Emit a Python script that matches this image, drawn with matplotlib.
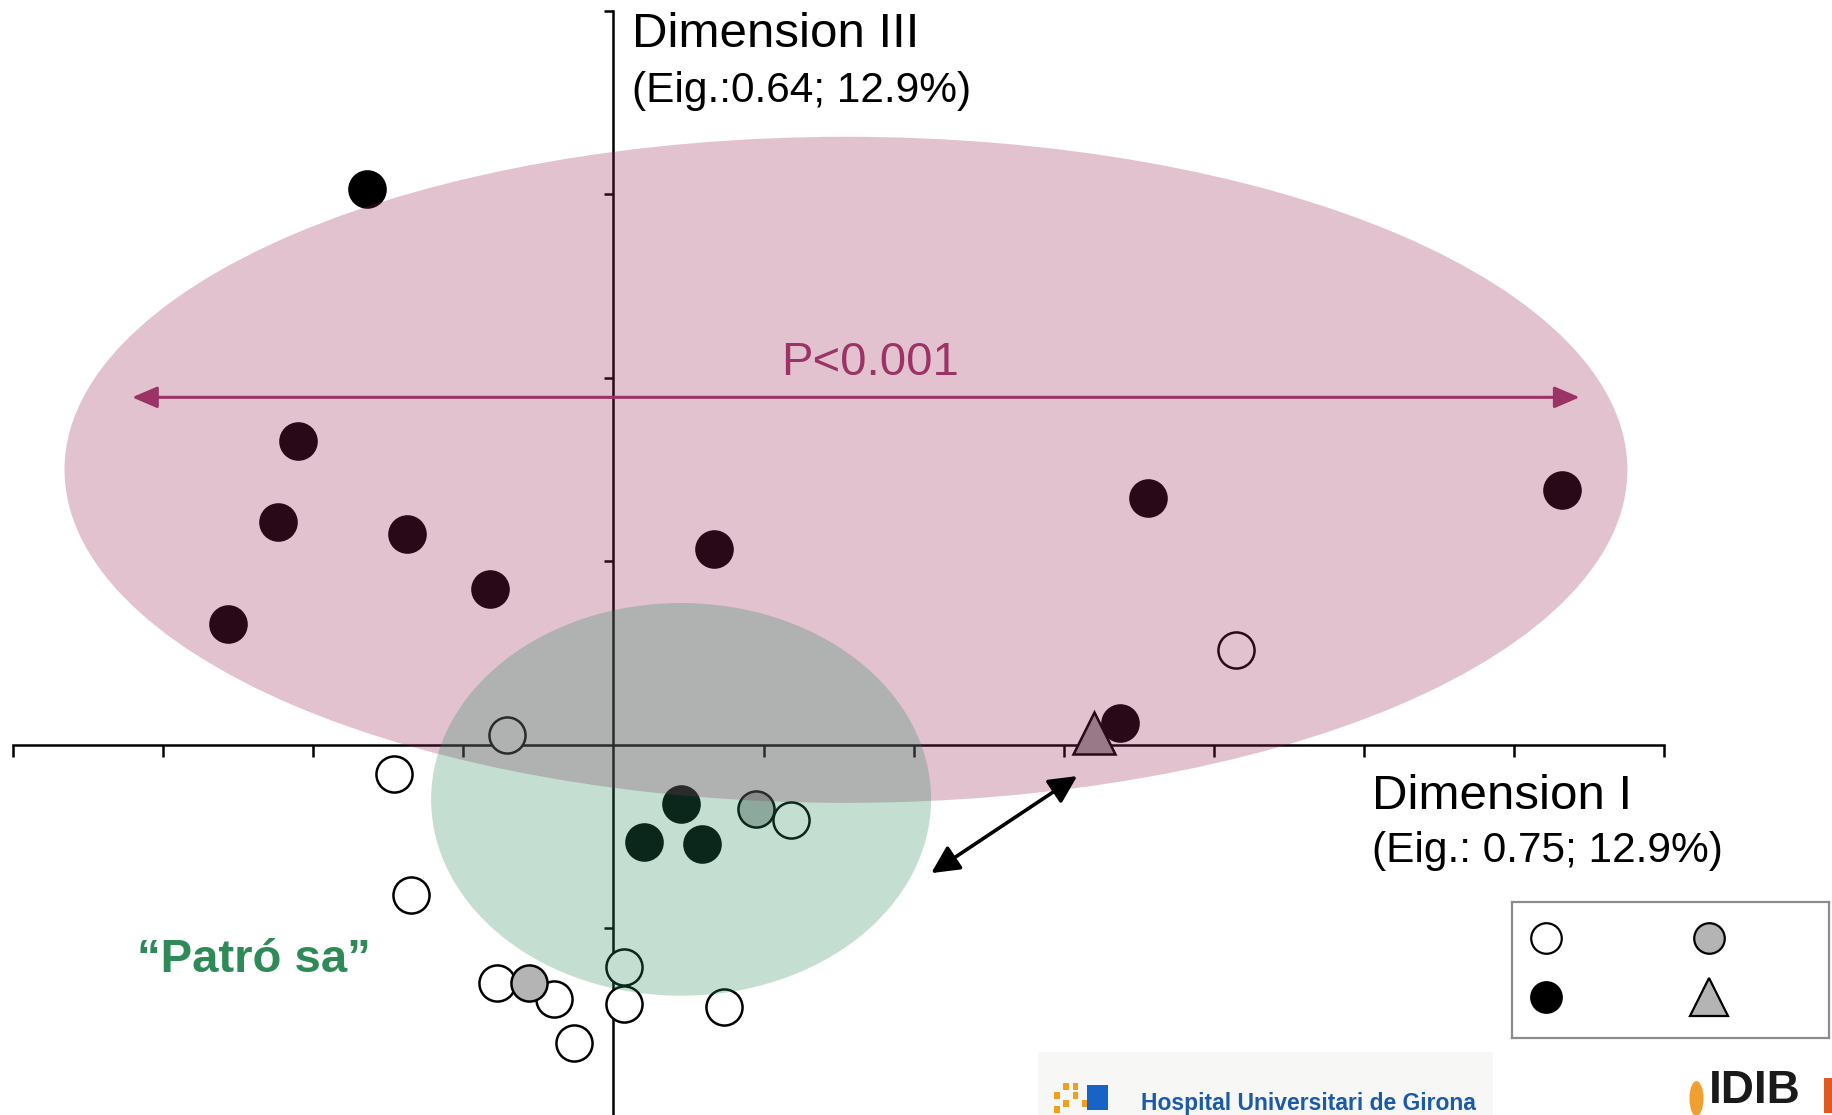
import matplotlib
matplotlib.use("Agg")
import matplotlib.pyplot as plt
from matplotlib.patches import Ellipse, Rectangle

plt.rcParams['font.family'] = ['Liberation Sans', 'DejaVu Sans']

# ---------------- data (axis units = one tick) ----------------
black_x = [-1.642, -2.101, -2.233, -1.377, -0.825, -2.568, 0.669, 3.564, 6.319, 3.377, 0.451, 0.202, 0.591]
black_y = [3.025, 1.656, 1.210, 1.146, 0.847, 0.656, 1.064, 1.344, 1.389, 0.115, -0.325, -0.529, -0.541]

open_x = [4.148, -0.708, -1.463, 1.183, -1.346, 0.070, -0.778, -0.397, 0.070, 0.739, -0.265]
open_y = [0.516, 0.051, -0.159, -0.414, -0.822, -1.210, -1.299, -1.389, -1.414, -1.433, -1.624]

gray_x = [0.949, -0.560]
gray_y = [-0.350, -1.299]

tri_x = [3.198]
tri_y = [0.064]

# cluster ellipses: centre x, centre y, width, height
pink_ell = [1.549, 1.497, 10.41, 3.63]
green_ell = [0.451, -0.299, 3.33, 2.14]

# annotation arrows
p_arrow_x = [-3.206, 6.436]
p_arrow_y = [1.892, 1.892]
blk_arrow_x = [2.117, 3.089]
blk_arrow_y = [-0.701, -0.172]

x_ticks = [-4, -3, -2, -1, 1, 2, 3, 4, 5, 6, 7]
y_ticks = [-1, 1, 2, 3, 4]

# ---------------- figure ----------------
fig = plt.figure(figsize=(18.32, 11.15), dpi=100)
ax = fig.add_axes([0, 0, 1, 1])
ax.set_xlim(-4.0856, 8.1167)
ax.set_ylim(-2.0191, 4.0573)

for s in ['top', 'right']:
    ax.spines[s].set_visible(False)
ax.spines['bottom'].set_position(('data', 0))
ax.spines['left'].set_position(('data', 0))
ax.spines['bottom'].set_bounds(-4, 7)
ax.spines['left'].set_bounds(-2.05, 4)
for s in ['bottom', 'left']:
    ax.spines[s].set_linewidth(1.8)
    ax.spines[s].set_color('black')
ax.set_xticks(x_ticks)
ax.set_yticks(y_ticks)
ax.set_xticklabels([])
ax.set_yticklabels([])
ax.tick_params(axis='x', direction='out', length=8.5, width=1.8, color='black')
ax.tick_params(axis='y', direction='out', length=6.5, width=1.8, color='black')
ax.patch.set_visible(False)

ms = 26
mew = 1.8
ax.plot(open_x, open_y, 'o', ms=ms, mfc='white', mec='black', mew=mew, zorder=3, clip_on=False)
ax.plot(gray_x, gray_y, 'o', ms=ms, mfc='#b4b4b4', mec='black', mew=mew, zorder=3.1, clip_on=False)
ax.plot(black_x, black_y, 'o', ms=ms, mfc='black', mec='black', mew=mew, zorder=3.2, clip_on=False)
ax.plot(tri_x, tri_y, '^', ms=30, mfc='#9a9a9a', mec='black', mew=mew, zorder=3.2, clip_on=False)

ax.add_patch(Ellipse((pink_ell[0], pink_ell[1]), pink_ell[2], pink_ell[3],
                     facecolor=(153/255, 36/255, 87/255), alpha=0.275, edgecolor='none', zorder=4))
ax.add_patch(Ellipse((green_ell[0], green_ell[1]), green_ell[2], green_ell[3],
                     facecolor=(43/255, 137/255, 94/255), alpha=0.278, edgecolor='none', zorder=5))

pcol = '#9c3366'
ax.annotate('', xy=(p_arrow_x[1], p_arrow_y[1]), xytext=(p_arrow_x[0], p_arrow_y[0]),
            arrowprops=dict(arrowstyle='<|-|>,head_length=0.7,head_width=0.3', color=pcol,
                            lw=2.2, mutation_scale=22, shrinkA=0, shrinkB=0), zorder=6)
ax.text(1.712, 2.013, 'P<0.001', color=pcol, fontsize=34, ha='center', va='baseline', zorder=6)

ax.annotate('', xy=(blk_arrow_x[1], blk_arrow_y[1]), xytext=(blk_arrow_x[0], blk_arrow_y[0]),
            arrowprops=dict(arrowstyle='<|-|>,head_length=0.7,head_width=0.35', color='black',
                            lw=2.6, mutation_scale=24, shrinkA=0, shrinkB=0), zorder=6)

ax.text(0.1245, 3.803, 'Dimension III', fontsize=35.5, ha='left', va='baseline', zorder=6)
ax.text(0.1245, 3.503, '(Eig.:0.64; 12.9%)', fontsize=30.5, ha='left', va='baseline', zorder=6)
ax.text(5.051, -0.350, 'Dimension I', fontsize=35.5, ha='left', va='baseline', zorder=6)
ax.text(5.051, -0.643, '(Eig.: 0.75; 12.9%)', fontsize=30.5, ha='left', va='baseline', zorder=6)
ax.text(-3.175, -1.242, '\u201cPatró sa\u201d', fontsize=34, fontweight='bold', color='#2e8b57',
        ha='left', va='baseline', zorder=6)

# ---------------- legend box (no labels) ----------------
lg = fig.add_axes([0.8253, 0.0692, 0.1728, 0.1216])
lg.set_xlim(0, 1)
lg.set_ylim(0, 1)
lg.set_xticks([])
lg.set_yticks([])
for s in lg.spines.values():
    s.set_color('#8c8c8c')
    s.set_linewidth(1.6)
leg_x = [0.107, 0.107, 0.624, 0.624]
leg_y = [0.733, 0.302, 0.733, 0.302]
leg_m = ['o', 'o', 'o', '^']
leg_fc = ['white', 'black', '#b4b4b4', '#b4b4b4']
leg_ms = [22, 22, 22, 27]
for x, y, m, fc, s in zip(leg_x, leg_y, leg_m, leg_fc, leg_ms):
    lg.plot([x], [y], m, ms=s, mfc=fc, mec='black', mew=1.6)

# ---------------- logos (approximate) ----------------
fig.patches.append(Rectangle((888/1568, 0), (1278-888)/1568, (954-900)/954, transform=fig.transFigure,
                             facecolor='#f7f7f5', edgecolor='none', zorder=0))
for (cx, cy) in [(902, 940), (910, 933), (918, 940), (910, 947), (918, 933), (926, 947), (902, 952)]:
    fig.patches.append(Rectangle((cx/1568, 1-cy/954), 5/1568, 6/954, transform=fig.transFigure,
                                 facecolor='#f0a020', edgecolor='none', zorder=1))
fig.patches.append(Rectangle((930/1568, 1-950/954), 18/1568, 22/954, transform=fig.transFigure,
                             facecolor='#1763c6', edgecolor='none', zorder=1))
fig.text(977/1568, 1-950/954, 'Hospital Universitari de Girona', fontsize=16.5, fontweight='bold',
         color='#1b5aa6', ha='left', va='baseline')
fig.patches.append(Ellipse((1452/1568, 1-940/954), 12/1568, 30/954, transform=fig.transFigure,
                           facecolor='#f0a030', edgecolor='none', zorder=1))
fig.text(1463/1568, 1-952/954, 'IDIB', fontsize=33, fontweight='bold', color='#1a1a1a',
         ha='left', va='bottom')
fig.patches.append(Rectangle((1561/1568, 1-952/954), 7/1568, 30/954, transform=fig.transFigure,
                             facecolor='#e05a20', edgecolor='none', zorder=1))

fig.savefig('out.png', dpi=100)
